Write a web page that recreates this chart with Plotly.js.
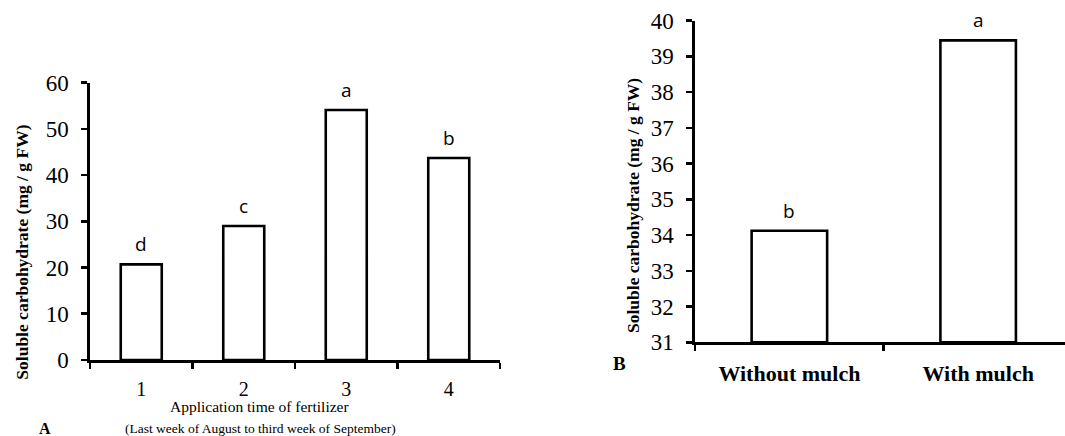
<!DOCTYPE html>
<html>
<head>
<meta charset="utf-8">
<script src="https://cdn.plot.ly/plotly-3.0.1.min.js"></script>
<style>html,body{margin:0;padding:0;background:#fff;}#chart{width:1065px;height:436px;}</style>
</head>
<body>
<div id="chart"></div>
<script>
// Panel A: application time of fertilizer
const timeCategories = ["1", "2", "3", "4"];
const timeValues = [20.7, 29.0, 54.1, 43.7];
const timeLetters = ["d", "c", "a", "b"];
const timeTicks = [0, 10, 20, 30, 40, 50, 60];

// Panel B: mulch
const mulchCategories = ["Without mulch", "With mulch"];
const mulchValues = [34.12, 39.45];
const mulchLetters = ["b", "a"];
const mulchTicks = [31, 32, 33, 34, 35, 36, 37, 38, 39, 40];

const yTitle = "Soluble carbohydrate (mg / g FW)";
const xTitleA = "Application time of fertilizer";
const xSubA = "(Last week of August to third week of September)";

const serif = "Liberation Serif, Times New Roman, serif";
const sans = "Open Sans, Liberation Sans, sans-serif";

const barStyle = {color: "#ffffff", line: {color: "#000000", width: 2.6}};

const traces = [
  {type: "bar", x: timeCategories, y: timeValues, xaxis: "x", yaxis: "y",
   width: 0.4, marker: barStyle, hoverinfo: "x+y", showlegend: false},
  {type: "bar", x: mulchCategories, y: mulchValues.map(v => v - mulchTicks[0]), base: mulchTicks[0],
   xaxis: "x2", yaxis: "y2",
   width: 0.4, marker: barStyle, hoverinfo: "x+y", showlegend: false}
];

const axisCommon = {
  showline: true, linecolor: "#000", linewidth: 2.6,
  ticks: "outside", ticklen: 6, tickwidth: 2.6, tickcolor: "#000",
  showgrid: false, zeroline: false, fixedrange: true
};

const annotations = [];
timeCategories.forEach((c, i) => annotations.push({
  xref: "x", yref: "y", x: i, y: timeValues[i], text: timeLetters[i],
  showarrow: false, yanchor: "bottom", yshift: 5,
  font: {family: sans, size: 19, color: "#000"}
}));
mulchCategories.forEach((c, i) => annotations.push({
  xref: "x2", yref: "y2", x: i, y: mulchValues[i], text: mulchLetters[i],
  showarrow: false, yanchor: "bottom", yshift: 5,
  font: {family: sans, size: 19, color: "#000"}
}));

// free text
annotations.push(
  {xref: "paper", yref: "paper", x: 21.7/1065, y: (436-252)/436, text: "<b>" + yTitle + "</b>",
   textangle: -90, showarrow: false, xanchor: "center", yanchor: "middle",
   font: {family: serif, size: 17.5, color: "#000"}},
  {xref: "paper", yref: "paper", x: 633/1065, y: (436-206)/436, text: "<b>" + yTitle + "</b>",
   textangle: -90, showarrow: false, xanchor: "center", yanchor: "middle",
   font: {family: serif, size: 17.5, color: "#000"}},
  {xref: "paper", yref: "paper", x: 259/1065, y: (436-406.7)/436, text: xTitleA,
   showarrow: false, xanchor: "center", yanchor: "middle",
   font: {family: serif, size: 15.5, color: "#000"}},
  {xref: "paper", yref: "paper", x: 260.7/1065, y: (436-428)/436, text: xSubA,
   showarrow: false, xanchor: "center", yanchor: "middle", borderpad: 0,
   font: {family: serif, size: 13.5, color: "#000"}},
  {xref: "paper", yref: "paper", x: 45/1065, y: (436-428)/436, text: "<b>A</b>",
   showarrow: false, xanchor: "center", yanchor: "middle", borderpad: 0,
   font: {family: serif, size: 16, color: "#000"}},
  {xref: "paper", yref: "paper", x: 619/1065, y: (436-363.3)/436, text: "<b>B</b>",
   showarrow: false, xanchor: "center", yanchor: "middle",
   font: {family: serif, size: 19, color: "#000"}}
);

const layout = {
  width: 1065, height: 436,
  margin: {l: 0, r: 0, t: 0, b: 0},
  paper_bgcolor: "#fff", plot_bgcolor: "#fff",
  showlegend: false,
  xaxis: Object.assign({}, axisCommon, {
    type: "category", domain: [90/1065, 500/1065], anchor: "y",
    tickson: "boundaries", range: [-0.5, 3.5],
    tickfont: {family: serif, size: 20, color: "#000"}, ticklabelstandoff: 9
  }),
  yaxis: Object.assign({}, axisCommon, {
    domain: [(436-360)/436, (436-82.7)/436], anchor: "x",
    range: [timeTicks[0], timeTicks[timeTicks.length - 1]], tickvals: timeTicks,
    tickfont: {family: serif, size: 23, color: "#000"}, ticklabelstandoff: 8
  }),
  xaxis2: Object.assign({}, axisCommon, {
    type: "category", domain: [695/1065, 1], anchor: "y2",
    tickson: "boundaries", range: [-0.5, 1.46],
    tickfont: {family: serif, size: 22, color: "#000", weight: "bold"}, ticklabelstandoff: 10
  }),
  yaxis2: Object.assign({}, axisCommon, {
    domain: [(436-342.3)/436, (436-20.7)/436], anchor: "x2",
    range: [mulchTicks[0], mulchTicks[mulchTicks.length - 1]], tickvals: mulchTicks,
    tickfont: {family: serif, size: 23, color: "#000"}, ticklabelstandoff: 8
  }),
  annotations: annotations
};

Plotly.newPlot("chart", traces, layout, {displayModeBar: false, staticPlot: true});
</script>
</body>
</html>
